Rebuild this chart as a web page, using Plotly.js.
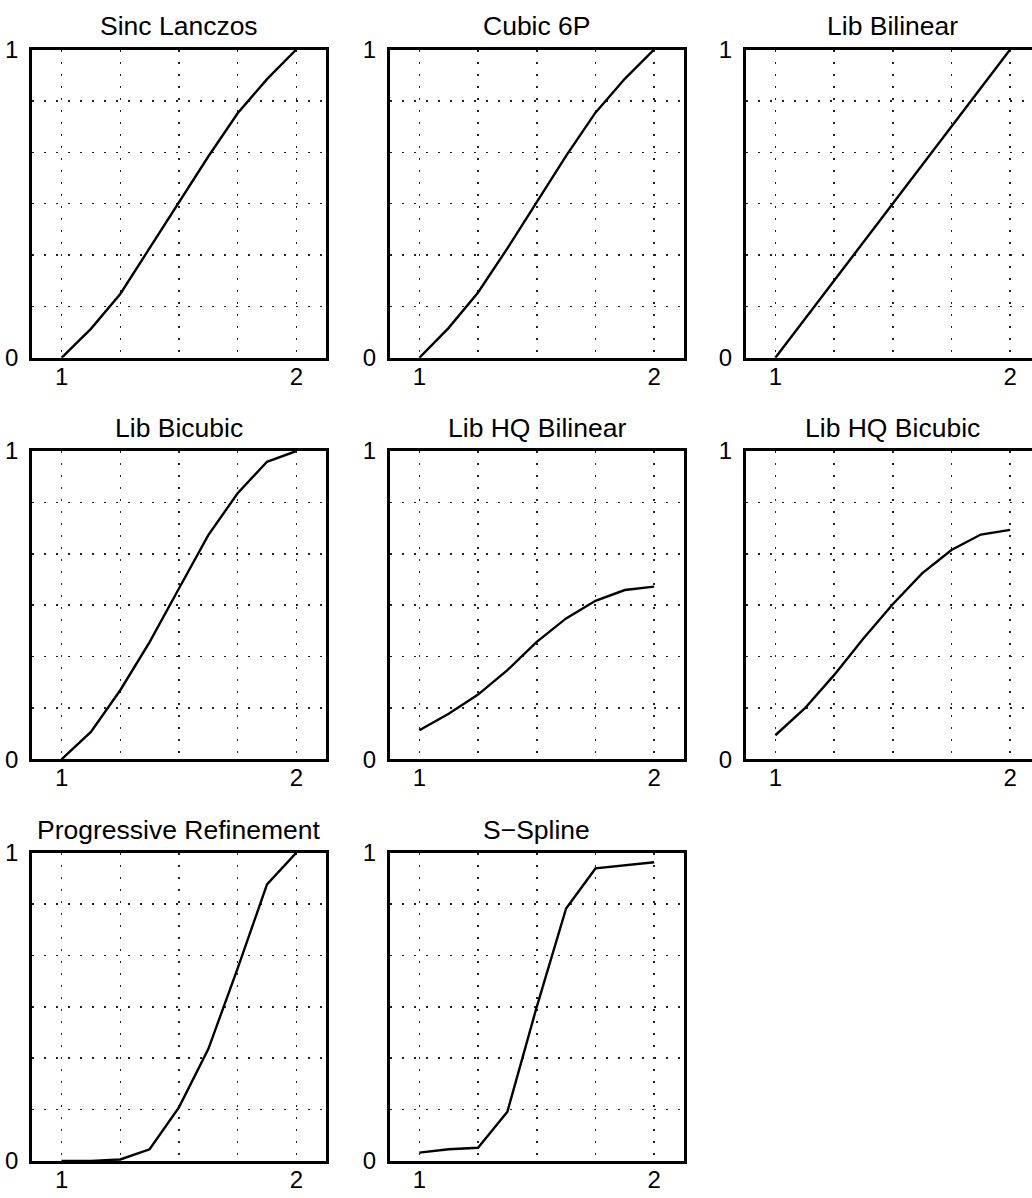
<!DOCTYPE html>
<html>
<head>
<meta charset="utf-8">
<script src="https://cdn.plot.ly/plotly-3.0.1.min.js"></script>
<style>
  html, body { margin: 0; padding: 0; background: #fff; overflow: hidden; }
  #chart { width: 1032px; height: 1198px; }
</style>
</head>
<body>
<div id="chart"></div>
<script>
// Step responses of the resampling methods, sampled at x = 1 ... 2
const xPoints = [1, 1.125, 1.25, 1.375, 1.5, 1.625, 1.75, 1.875, 2];

const sincLanczos           = [0, 0.094, 0.207, 0.355, 0.506, 0.653, 0.793, 0.904, 1.0];
const cubic6P               = [0, 0.097, 0.212, 0.355, 0.505, 0.655, 0.795, 0.905, 1.0];
const libBilinear           = [0, 0.125, 0.25, 0.375, 0.5, 0.625, 0.75, 0.875, 1.0];
const libBicubic            = [0, 0.089, 0.224, 0.38, 0.554, 0.727, 0.863, 0.965, 1.0];
const libHQBilinear         = [0.094, 0.148, 0.21, 0.289, 0.381, 0.457, 0.514, 0.549, 0.56];
const libHQBicubic          = [0.078, 0.165, 0.273, 0.392, 0.503, 0.603, 0.679, 0.729, 0.744];
const progressiveRefinement = [0, 0, 0.005, 0.038, 0.174, 0.363, 0.625, 0.897, 1.0];
const sSpline               = [0.027, 0.038, 0.043, 0.16, 0.5, 0.819, 0.949, 0.958, 0.969];

const panelTitles = ['Sinc Lanczos', 'Cubic 6P', 'Lib Bilinear',
                     'Lib Bicubic', 'Lib HQ Bilinear', 'Lib HQ Bicubic',
                     'Progressive Refinement', 'S\u2212Spline'];
const panelSeries = [sincLanczos, cubic6P, libBilinear,
                     libBicubic, libHQBilinear, libHQBicubic,
                     progressiveRefinement, sSpline];

// Tick positions and labels (grid at every tick, only the ends labelled)
const xTickVals = [1, 1.25, 1.5, 1.75, 2];
const xTickText = ['1', '', '', '', '2'];
const yTickVals = [0, 1/6, 2/6, 3/6, 4/6, 5/6, 1];
const yTickText = ['0', '', '', '', '', '', '1'];

// Page geometry (pixels)
const W = 1032, H = 1198;
const colLeft = [32.2, 390, 746];
const rowTop = [49.5, 451, 852.7];
const plotW = 293.5, plotH = 308.3;
const xMin = 0.875, xMax = 2.125;

const FONT = '"Liberation Sans", Arial, Helvetica, sans-serif';

const traces = [];
const layout = {
  width: W, height: H,
  margin: {l: 0, r: 0, t: 0, b: 0},
  paper_bgcolor: '#fff',
  plot_bgcolor: '#fff',
  showlegend: false,
  font: {family: FONT, size: 24, color: '#000'},
  annotations: []
};

panelSeries.forEach((ys, i) => {
  const row = Math.floor(i / 3), col = i % 3;
  const n = i + 1;
  const sfx = n === 1 ? '' : String(n);

  const left = colLeft[col];
  const right = Math.min(left + plotW, W);
  const top = rowTop[row];
  const bottom = top + plotH;
  const rangeEnd = xMin + (right - left) / plotW * (xMax - xMin);

  traces.push({
    x: xPoints, y: ys,
    xaxis: 'x' + sfx, yaxis: 'y' + sfx,
    type: 'scatter', mode: 'lines',
    line: {color: '#000', width: 2.4},
    hoverinfo: 'skip'
  });

  const common = {
    showline: true, linecolor: '#000', linewidth: 3,
    showgrid: true, gridcolor: '#222', gridwidth: 1.5, griddash: '2px,10px',
    zeroline: false, ticks: '', fixedrange: true,
    tickfont: {family: FONT, size: 24, color: '#000'}
  };

  layout['xaxis' + sfx] = Object.assign({}, common, {
    domain: [left / W, right / W],
    range: [xMin, rangeEnd],
    tickmode: 'array', tickvals: xTickVals, ticktext: xTickText,
    mirror: true,
    anchor: 'y' + sfx,
    ticklabelstandoff: -5
  });
  layout['yaxis' + sfx] = Object.assign({}, common, {
    domain: [1 - bottom / H, 1 - top / H],
    range: [0, 1],
    tickmode: 'array', tickvals: yTickVals, ticktext: yTickText,
    mirror: right < left + plotW ? false : true,
    anchor: 'x' + sfx,
    ticklabelstandoff: 6
  });

  layout.annotations.push({
    text: panelTitles[i],
    xref: 'paper', yref: 'paper',
    x: (left + plotW / 2) / W, y: 1 - top / H,
    xanchor: 'center', yanchor: 'bottom',
    yshift: 6, showarrow: false,
    font: {family: FONT, size: 26.5, color: '#000'}
  });
});

Plotly.newPlot('chart', traces, layout, {staticPlot: true, displayModeBar: false});
</script>
</body>
</html>
